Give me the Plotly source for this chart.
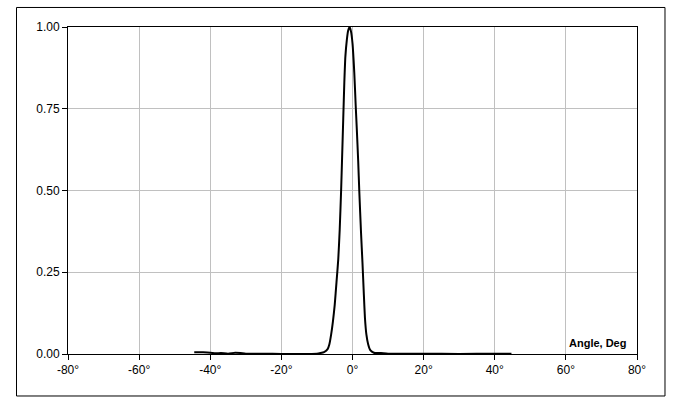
import plotly.graph_objects as go

# beam pattern
angle = [-44.5, -42, -40, -38.5, -37, -35, -33, -31.5, -30, -25, -20, -15, -10, -9, -8, -7,
         -6.5, -6, -5.5, -5, -4.5, -4.0, -3.6, -3.2, -2.9, -2.6, -2.3, -2.0, -1.6, -1.2,
         -0.8, -0.4, 0.0, 0.5, 0.9, 1.2, 1.6, 1.9, 2.4, 2.8, 3.2, 3.5, 3.9, 4.4, 5.0, 6.0,
         8, 10, 20, 30, 40, 44.7]
level = [0.005, 0.005, 0.004, 0.002, 0.003, 0.001, 0.004, 0.003, 0.001, 0.001, 0.0, 0.0,
         0.001, 0.003, 0.006, 0.015, 0.03, 0.06, 0.10, 0.15, 0.22, 0.29, 0.38, 0.50, 0.61,
         0.72, 0.83, 0.91, 0.96, 0.99, 1.0, 0.985, 0.95, 0.86, 0.76, 0.69, 0.59, 0.50, 0.37,
         0.28, 0.18, 0.11, 0.06, 0.03, 0.012, 0.004, 0.003, 0.001, 0.001, 0.0, 0.001, 0.001]

x_ticks = [-80, -60, -40, -20, 0, 20, 40, 60, 80]
x_labels = [f"{t}°" for t in x_ticks]
y_ticks = [0, 0.25, 0.5, 0.75, 1.0]

fig = go.Figure()
fig.add_trace(go.Scatter(x=angle, y=level, mode="lines", line=dict(color="black", width=2, shape="spline", smoothing=0.5), hoverinfo="skip"))

axis_style = dict(showline=True, linecolor="black", linewidth=1, mirror=True,
                  showgrid=True, gridcolor="#c0c0c0", gridwidth=1, zeroline=False,
                  ticks="outside", ticklen=5, tickcolor="black")

fig.update_xaxes(range=[-80, 80], tickvals=x_ticks, ticktext=x_labels, **axis_style)
fig.update_yaxes(range=[0, 1], tickvals=y_ticks, tickformat=".2f", **axis_style)

fig.add_annotation(text="<b>Angle, Deg</b>", xref="paper", yref="paper", x=0.984, y=0.034,
                   xanchor="right", yanchor="middle", showarrow=False,
                   font=dict(size=11, color="black"))

# outer chart frame
fig.add_shape(type="rect", xref="paper", yref="paper", x0=-0.0905, x1=1.0492, y0=-0.1284, y1=1.0597,
              line=dict(color="black", width=1), layer="above")

fig.update_layout(
    width=681, height=406,
    margin=dict(l=68, r=44, t=27, b=52),
    plot_bgcolor="white", paper_bgcolor="white",
    showlegend=False,
    font=dict(family="Liberation Sans, Arial, sans-serif", size=12, color="black"),
)

# drop the default 8px body margin so the figure sits at the page corner
fig.write_html("out.html", config={"displayModeBar": False},
               post_script="document.body.style.margin='0';")
